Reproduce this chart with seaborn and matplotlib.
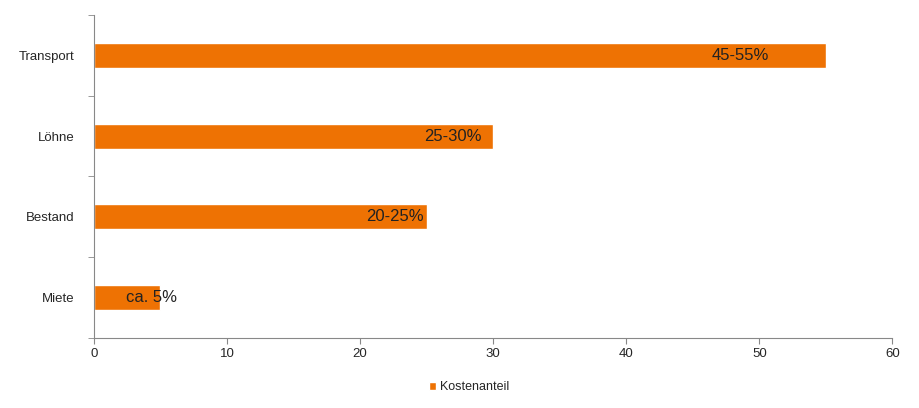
import matplotlib
matplotlib.use("Agg")
import matplotlib.pyplot as plt
import seaborn as sns
import pandas as pd
import numpy as np

categories = ["Transport", "Löhne", "Bestand", "Miete"]
values = [55, 30, 25, 5]
labels = ["45-55%", "25-30%", "20-25%", "ca. 5%"]
label_x = [48.6, 27.0, 22.6, 4.3]

sns.set_style("white")
plt.rcParams["font.family"] = ["Liberation Sans", "DejaVu Sans"]

df = pd.DataFrame({"cat": categories, "val": values})
fig = plt.figure(figsize=(9.2, 4.08), dpi=100)
ax = fig.add_axes([0.102, 0.172, 0.868, 0.791])
sns.barplot(data=df, x="val", y="cat", color="#EE7203", saturation=1,
            width=0.31, ax=ax, label="Kostenanteil")

for i, (t, x) in enumerate(zip(labels, label_x)):
    ax.text(x, i, t, ha="center", va="center", fontsize=12, color="#222222")

ax.set_xlim(0, 60)
ax.set_ylim(3.5, -0.5)
ax.set_xticks(range(0, 61, 10))
ax.set_yticks(range(4))
ax.set_yticklabels(categories)
ax.set_yticks(np.arange(-0.5, 4, 1), minor=True)
ax.tick_params(axis="y", which="major", length=0, labelsize=9.5, pad=14)
ax.tick_params(axis="y", which="minor", length=4, color="#888888", direction="out", left=True)
ax.tick_params(axis="x", length=4, color="#888888", direction="out", bottom=True, labelsize=9.5)
ax.set_xlabel("")
ax.set_ylabel("")
for s in ["top", "right"]:
    ax.spines[s].set_visible(False)
for s in ["left", "bottom"]:
    ax.spines[s].set_color("#888888")

ax.legend(loc="upper center", bbox_to_anchor=(0.47, -0.1), frameon=False,
          fontsize=9, handlelength=0.6, handleheight=0.6, handletextpad=0.3)

fig.savefig("out.png", dpi=100)
